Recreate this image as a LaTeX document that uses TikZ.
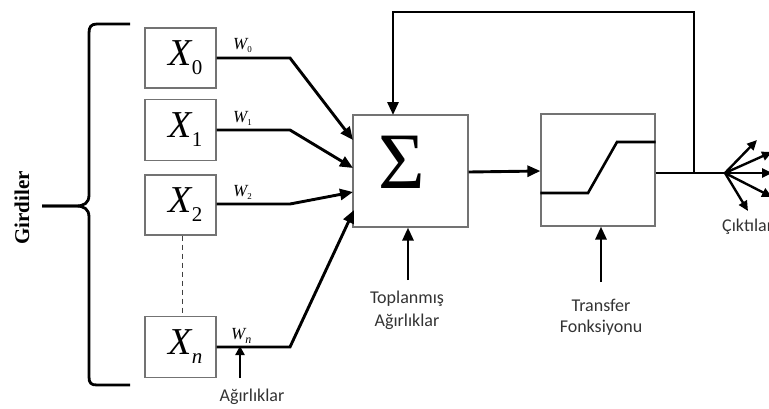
\documentclass[tikz,border=0pt]{standalone}
\usepackage{fontspec}
\setmainfont{Liberation Serif}
\newfontfamily\calib{Carlito}
\usetikzlibrary{arrows.meta,calc}
\tikzset{
  inbox/.style={draw=black!55, line width=1.2pt, rectangle, minimum width=71pt, inner sep=0pt},
  bigbox/.style={draw=black!55, line width=1.2pt, rectangle, inner sep=0pt},
  wire/.style={line width=2.9pt, line join=miter},
  arr/.style={line width=2.9pt, -{Triangle[length=13pt,width=11pt]}},
  farr/.style={line width=2.4pt, -{Triangle[length=10pt,width=9pt]}},
  lbl/.style={font=\calib\fontsize{18}{18}\selectfont, text=black!80, inner sep=0pt},
  wl/.style={inner sep=0pt, anchor=base west}
}
\newcommand{\xlab}[1]{\hspace*{10pt}{\fontsize{38}{38}\selectfont\itshape X}\raisebox{-9pt}{\fontsize{21}{21}\selectfont #1}}
\newcommand{\wlab}[1]{{\fontsize{17}{17}\selectfont\itshape W}\raisebox{-3pt}{\fontsize{9}{9}\selectfont #1}}
\begin{document}
\begin{tikzpicture}[x=1pt,y=-1pt]
\useasboundingbox (0,0) rectangle (769,408);
% input boxes
\node[inbox, minimum height=60pt] (X0) at (180.5,58) {\xlab{0}};
\node[inbox, minimum height=61pt] (X1) at (180.5,130) {\xlab{1}};
\node[inbox, minimum height=60pt] (X2) at (180.5,205) {\xlab{2}};
\node[inbox, minimum height=61pt] (Xn) at (180.5,347) {\xlab{\itshape n}};
\draw[dashed, line width=1.2pt, black!75, dash pattern=on 5pt off 4pt] (X2.south) ++(2,0) coordinate (d1) -- (d1 |- Xn.north);
% sum and transfer boxes
\node[bigbox, minimum width=115pt, minimum height=112pt] (sig) at (410.5,171) {};
\node[font=\fontsize{80}{80}\selectfont, inner sep=0pt] (sigma) at (402,162) {Σ};
\node[bigbox, minimum width=114pt, minimum height=112pt] (tf) at (598,170) {};
% transfer curve
\draw[line width=2.6pt] (tf.west |- 0,193) -- (588,193) -- (617,142) -- (tf.east |- 0,142);
% weights labels
\node[wl] (w0) at (233,49) {\wlab{0}};
\node[wl] (w1) at (233,122) {\wlab{1}};
\node[wl] (w2) at (233,196) {\wlab{2}};
\node[wl] (wn) at (231,339) {{\fontsize{17}{17}\selectfont\itshape W}\raisebox{-4pt}{\fontsize{12}{12}\selectfont\itshape n}};
% input wires
\coordinate (t0) at (353,140);
\coordinate (t1) at (353,168);
\coordinate (t2) at (353,192);
\coordinate (tn) at (354,210);
\draw[wire] (X0.east) -- (290,58) -- ($(290,58)!0.9!(t0)$);
\draw[arr] ($(290,58)!0.88!(t0)$) -- (t0);
\draw[wire] (X1.east) -- (290,130) -- ($(290,130)!0.9!(t1)$);
\draw[arr] ($(290,130)!0.88!(t1)$) -- (t1);
\draw[wire] (X2.east |- 0,204) -- (290,204) -- ($(290,204)!0.9!(t2)$);
\draw[arr] ($(290,204)!0.85!(t2)$) -- (t2);
\draw[wire] (Xn.east) -- (290,347) -- ($(290,347)!0.95!(tn)$);
\draw[arr] ($(290,347)!0.93!(tn)$) -- (tn);
% Wn weight arrow
\coordinate (wa) at (240,378);
\draw[line width=2.6pt, -{Triangle[length=9pt,width=9pt]}] (wa) -- (240,346);
\node[lbl] (agir) at (252,397) {Ağırlıklar};
% sigma -> transfer
\draw[arr] (sig.east |- 0,172) -- (tf.west |- 0,171);
% output and feedback
\coordinate (fan) at (725,173);
\coordinate (tap) at (694,173);
\draw[wire] (tf.east |- 0,173) -- (fan);
\draw[wire] (tap) -- (694,12) -- (393,12) -- (393,30);
\draw[arr] (393,25) -- (393 ,115) coordinate (sigtop);
% fan of outputs
\draw[farr] (fan) -- (757,140);
\draw[farr] (fan) -- (772,152);
\draw[farr] (fan) -- (772,173);
\draw[farr] (fan) -- (772,197);
\draw[farr] (fan) -- (748,211);
\node[lbl, anchor=west] (cikti) at (722,227) {Çıktılar};
% labels below boxes
\draw[arr] (408,280) -- (sig.south -| 408,0);
\node[lbl] (top1) at (407,299) {Toplanmış};
\node[lbl] (top2) at (407,322) {Ağırlıklar};
\draw[arr] (601,282) -- (tf.south -| 601,0);
\node[lbl] (tr1) at (601,305) {Transfer};
\node[lbl] (tr2) at (601,328) {Fonksiyonu};
% brace
\draw[line width=2.8pt] (130,24) -- (97,24) .. controls (91,24) and (89,27) .. (89,33) -- (89,195)
  .. controls (89,203) and (84,206) .. (76,206) -- (42,206);
\draw[line width=2.8pt] (42,206) -- (76,206) .. controls (84,206) and (89,209) .. (89,217) -- (89,377)
  .. controls (89,383) and (91,385) .. (97,385) -- (130,385);
\node[rotate=90, font=\bfseries\fontsize{21}{21}\selectfont, inner sep=0pt] (gird) at (22,208) {Girdiler};
\end{tikzpicture}
\end{document}
